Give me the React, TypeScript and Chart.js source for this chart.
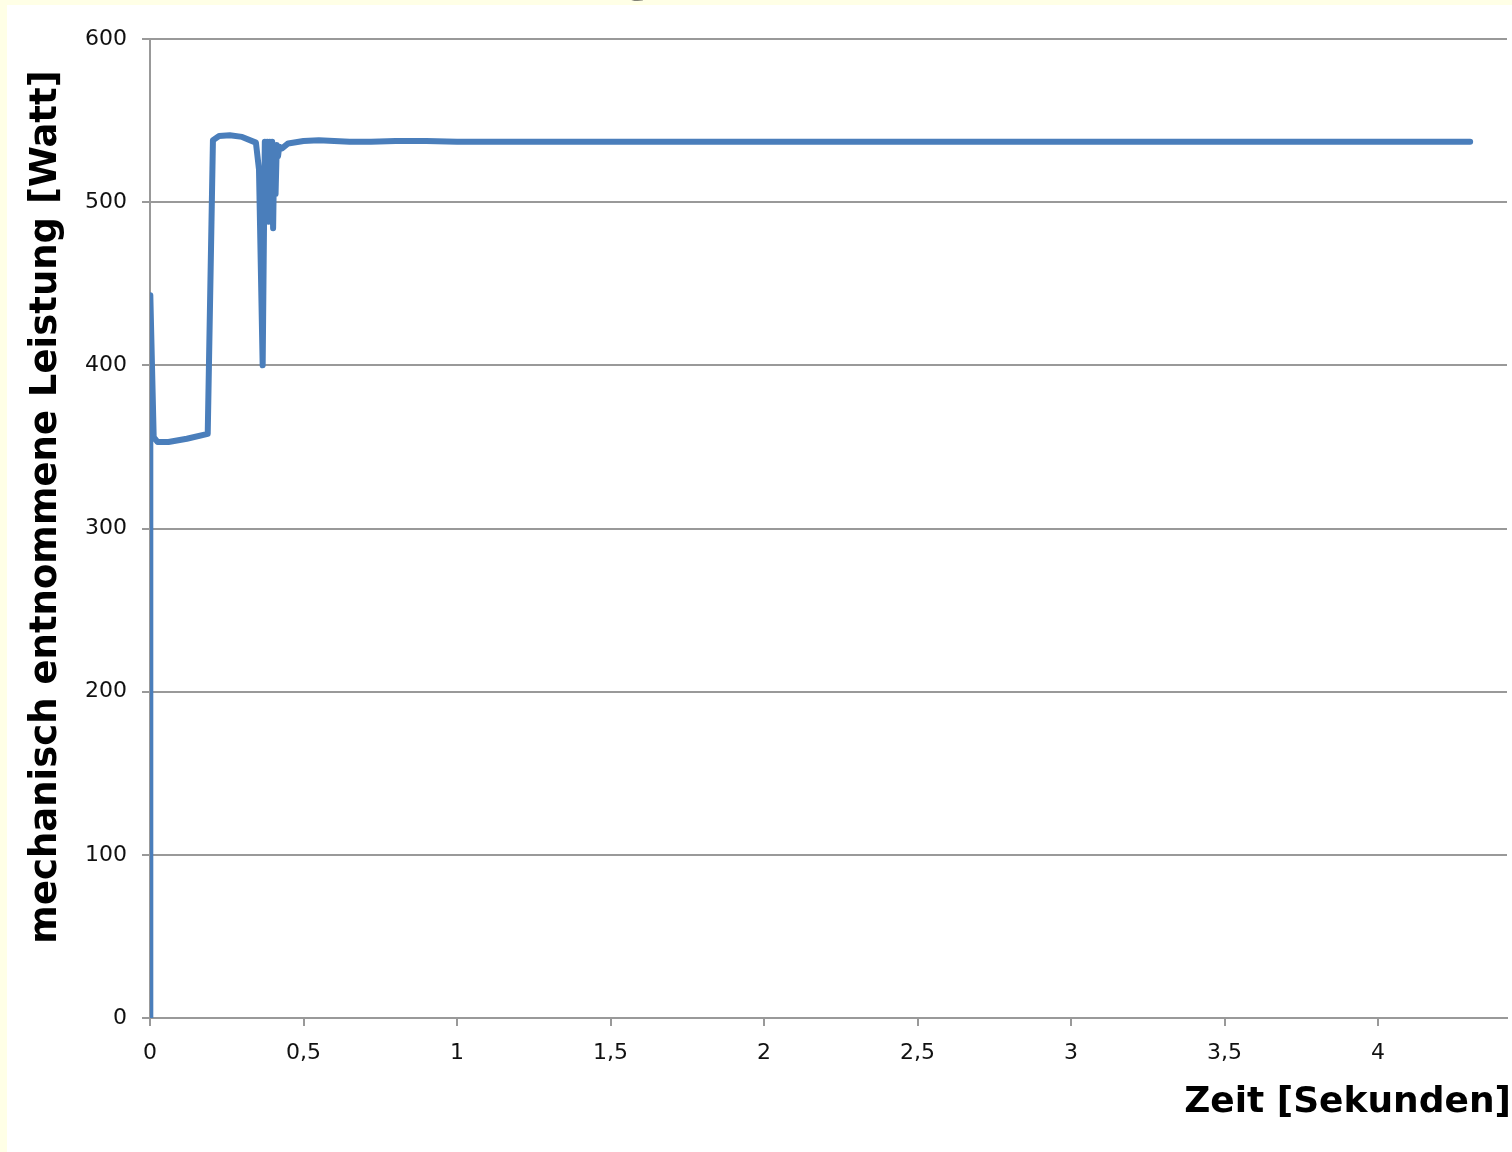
import { useEffect, useRef } from 'react';
import { Chart, registerables } from 'chart.js';

Chart.register(...registerables);

// Zeit [Sekunden]
const timeSec = [
  0, 0.001, 0.012, 0.025, 0.06, 0.12, 0.188, 0.205, 0.225, 0.26, 0.3, 0.345,
  0.355, 0.367, 0.374, 0.378, 0.382, 0.386, 0.39, 0.394, 0.398, 0.401, 0.405,
  0.409, 0.413, 0.417, 0.421, 0.43, 0.45, 0.5, 0.55, 0.6, 0.65, 0.72, 0.8, 0.9,
  1.0, 1.5, 2.0, 2.5, 3.0, 3.5, 4.0, 4.3,
];
// mechanisch entnommene Leistung [Watt]
const powerWatt = [
  0, 443, 356, 353, 353, 355, 358, 538, 540.5, 541, 540, 536.5,
  520, 400, 537, 495, 537, 488, 537, 492, 537, 484, 535,
  505, 535, 528, 534, 533, 536, 537.5, 538, 537.5, 537, 537, 537.5, 537.5,
  537, 537, 537, 537, 537, 537, 537, 537,
];

const xMin = 0;
const xMax = 4.42;
const xStep = 0.5;
const yMin = 0;
const yMax = 600;
const yStep = 100;

const yAxisTitle = 'mechanisch entnommene Leistung [Watt]';
const xAxisTitle = 'Zeit [Sekunden]';
const cutTitleFragment = 'g';

export default function App() {
  const ref = useRef<HTMLCanvasElement>(null);

  useEffect(() => {
    if (!ref.current) return;
    const titlesPlugin = {
      id: 'axisTitles',
      afterDraw(chart: any) {
        const ctx = chart.ctx as CanvasRenderingContext2D;
        ctx.save();
        ctx.fillStyle = '#000';
        ctx.font = 'bold 37px "DejaVu Sans"';
        // y title
        ctx.translate(39, 502);
        ctx.rotate(-Math.PI / 2);
        ctx.textAlign = 'center';
        ctx.textBaseline = 'middle';
        ctx.fillText(yAxisTitle, 0, 0);
        ctx.restore();
        ctx.save();
        ctx.fillStyle = '#000';
        ctx.font = 'bold 36px "DejaVu Sans"';
        ctx.textAlign = 'right';
        ctx.textBaseline = 'alphabetic';
        ctx.fillText(xAxisTitle, 1504, 1107);
        ctx.restore();
      },
    };

    const chart = new Chart(ref.current, {
      type: 'line',
      data: {
        datasets: [
          {
            data: timeSec.map((t, i) => ({ x: t, y: powerWatt[i] })),
            borderColor: '#4A7EBB',
            borderWidth: 6,
            pointRadius: 0,
            tension: 0,
            fill: false,
            borderJoinStyle: 'round',
            borderCapStyle: 'round',
          },
        ],
      },
      options: {
        animation: false,
        responsive: false,
        devicePixelRatio: 1,
        layout: { padding: { top: 34, right: 5, left: 0, bottom: 0 } },
        plugins: { legend: { display: false }, tooltip: { enabled: false } },
        scales: {
          x: {
            type: 'linear',
            min: xMin,
            max: xMax,
            afterFit: (s: any) => {
              s.height = 134;
            },
            ticks: {
              stepSize: xStep,
              includeBounds: false,
              padding: 14,
              color: '#111',
              font: { family: 'DejaVu Sans', size: 22 },
              maxRotation: 0,
              autoSkip: false,
              callback: (v: any) => String(v).replace('.', ','),
            },
            grid: {
              drawOnChartArea: false,
              drawTicks: true,
              tickLength: 8,
              color: '#999',
              lineWidth: 2,
            },
            border: { color: '#999', width: 2 },
          },
          y: {
            min: yMin,
            max: yMax,
            afterFit: (s: any) => {
              s.width = 143;
            },
            ticks: {
              stepSize: yStep,
              padding: 15,
              color: '#111',
              font: { family: 'DejaVu Sans', size: 22 },
            },
            grid: { color: '#999', lineWidth: 2, tickLength: 8 },
            border: { color: '#999', width: 2 },
          },
        },
      },
      plugins: [titlesPlugin],
    } as any);
    return () => chart.destroy();
  }, []);

  return (
    <div
      style={{
        position: 'fixed',
        left: 0,
        top: 0,
        width: 1512,
        height: 1152,
        background: '#FFFFE6',
        overflow: 'hidden',
      }}
    >
      <div
        style={{
          position: 'absolute',
          left: 7,
          top: 5,
          width: 1505,
          height: 1147,
          background: '#fff',
        }}
      >
        <canvas ref={ref} width={1505} height={1147} style={{ display: 'block' }} />
      </div>
      <div
        style={{
          position: 'absolute',
          left: 0,
          top: 0,
          width: 1512,
          height: 5,
          overflow: 'hidden',
        }}
      >
        <span
          style={{
            position: 'absolute',
            left: 618,
            top: -67,
            fontFamily: '"DejaVu Sans"',
            fontWeight: 'bold',
            fontSize: 64,
            lineHeight: 1,
            color: '#000',
          }}
        >
          {cutTitleFragment}
        </span>
      </div>
    </div>
  );
}
